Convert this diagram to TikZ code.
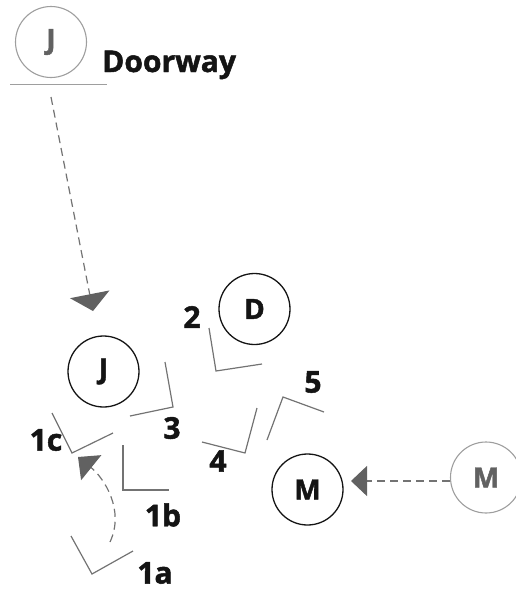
\documentclass[tikz,border=0pt]{standalone}
\usepackage{fontspec}
\setmainfont{Open Sans}[BoldFeatures={FakeBold=1.6}]
\usetikzlibrary{arrows.meta}
\definecolor{lgray}{gray}{0.62}
\definecolor{mgray}{gray}{0.45}
\definecolor{dgray}{gray}{0.38}
\definecolor{ink}{gray}{0.08}
\begin{document}
\begin{tikzpicture}[x=1pt,y=-1pt,
  person/.style={circle,draw=ink,line width=1.3pt,minimum size=71pt,inner sep=0pt,text=ink,font=\bfseries\fontsize{28}{28}\selectfont},
  ghost/.style={person,draw=lgray,text=dgray,line width=1.1pt},
  lbl/.style={inner sep=0pt,text=ink,font=\bfseries\fontsize{30}{30}\selectfont},
  wall/.style={draw=mgray,line width=1.2pt},
  move/.style={draw=mgray,line width=1.2pt,dash pattern=on 8pt off 5pt}]
\useasboundingbox (0,0) rectangle (515,590);
% people
\node[ghost] (Jg) at (51,42) {J};
\node[person] (J) at (103.5,371.5) {J};
\node[person] (D) at (254.5,309) {D};
\node[person] (M) at (307.5,489.5) {M};
\node[ghost] (Mg) at (486,477.5) {M};
% doorway
\node[lbl,anchor=base west] (door) at (102,72) {Doorway};
\draw[draw=lgray,line width=1pt] (10,84) -- (107,84);
% walls / brackets
\draw[wall] (209,328) -- (216,371) -- (262,364);
\draw[wall] (165,362) -- (173,407) -- (130,416);
\draw[wall] (52,413) -- (72,453) -- (113,433);
\draw[wall] (123,445) -- (123,490) -- (169,490);
\draw[wall] (71,536) -- (92,574) -- (133,551);
\draw[wall] (202,442) -- (245,453) -- (257,408);
\draw[wall] (267,440) -- (283,397) -- (324,412);
% labels
\node[lbl] (l2) at (192,317) {2};
\node[lbl] (l3) at (172,428) {3};
\node[lbl] (l4) at (218,461) {4};
\node[lbl] (l5) at (313,382) {5};
\node[lbl] (l1c) at (46,440) {1c};
\node[lbl] (l1b) at (163,515) {1b};
\node[lbl] (l1a) at (155,573) {1a};
% movements
\coordinate (a1s) at (51,97);
\coordinate (a1e) at (93,311);
\draw[move,-{Triangle[width=40pt,length=17pt,color=dgray]}] (a1s) -- (a1e);
\coordinate (a2s) at (Mg.west |- 0,481);
\coordinate (a2e) at (351,481);
\draw[move,-{Triangle[width=30pt,length=16pt,color=dgray]}] (a2s) -- (a2e);
\coordinate (a3s) at (110,542);
\coordinate (a3e) at (78,457);
\draw[move,-{Triangle[width=32pt,length=17pt,color=dgray]}] (a3s) .. controls (125,510) and (104,478) .. (a3e);
\end{tikzpicture}
\end{document}
